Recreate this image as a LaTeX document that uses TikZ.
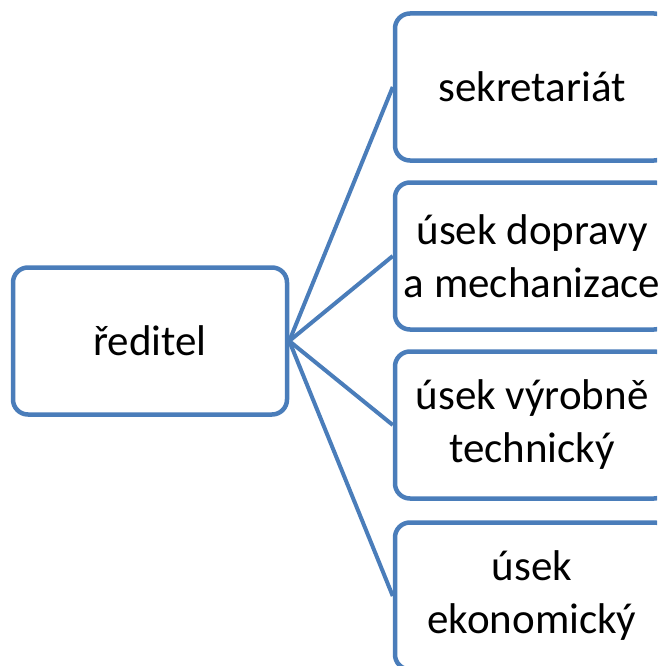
\documentclass[tikz,border=0pt]{standalone}
\usepackage{fontspec}
\setmainfont{Carlito}
\definecolor{boxblue}{HTML}{4A7DBA}
\tikzset{
  unit/.style={draw=boxblue, line width=4.5pt, rounded corners=15pt, fill=white,
    minimum width=274pt, minimum height=147pt, align=center,
    font=\fontsize{43}{53}\selectfont},
  link/.style={draw=boxblue, line width=4pt}
}
\begin{document}
\begin{tikzpicture}[x=1pt,y=-1pt]
        \useasboundingbox (0,0) rectangle (657,666);
        \clip (0,0) rectangle (657,666);
        % \fill[gray] (0,0) rectangle (657,666);
        \node[unit] (reditel) at (150,341) {ředitel};
        \node[unit] (sekretariat) at (532,87) {sekretariát};
        \node[unit] (doprava) at (532,256) {úsek dopravy\\a mechanizace};
        \node[unit] (vyroba) at (532,425) {úsek výrobně\\technický};
        \node[unit] (ekonom) at (532,596) {úsek\\ekonomický};
        \foreach \n in {sekretariat,doprava,vyroba,ekonom}
            \draw[link] (reditel.east) -- (\n.west);
    \end{tikzpicture}
\end{document}
